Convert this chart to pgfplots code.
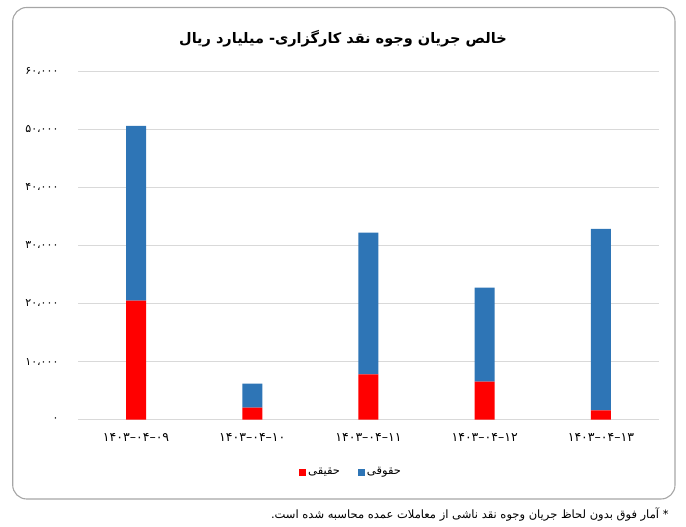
\documentclass[border=0pt]{standalone}
\usepackage{pgfplots}
\pgfplotsset{compat=1.18}
\usepackage{fontspec}
\setmainfont{DejaVu Sans}
\newfontfamily\arabicfont[Script=Arabic]{DejaVu Sans}
\TeXXeTstate=1
\definecolor{cred}{HTML}{FF0000}
\definecolor{cblue}{HTML}{2E75B6}
\newcommand\pd[3]{\hbox{#1}\hbox{–}\hbox{#2}\hbox{–}\hbox{#3}}
\begin{document}
\begin{tikzpicture}
\useasboundingbox (0pt,0pt) rectangle (686pt,527pt);
\draw[color=black!35, line width=1.1pt, rounded corners=14pt] (12.7pt,28pt) rectangle (675pt,519.5pt);
\node[font=\arabicfont\bfseries\fontsize{14.5}{17}\selectfont] at (343pt,488pt) {\beginR خالص جریان وجوه نقد کارگزاری- میلیارد ریال\endR};
\begin{axis}[
  at={(78pt,107.3pt)}, anchor=south west,
  scale only axis, width=581pt, height=348.7pt,
  xmin=-0.5, xmax=4.5, ymin=0, ymax=60000,
  scaled y ticks=false,
  ybar stacked, bar width=20pt,
  xtick={0,1,2,3,4},
  xticklabels={{\pd{۱۴۰۳}{۰۴}{۰۹}},{\pd{۱۴۰۳}{۰۴}{۱۰}},{\pd{۱۴۰۳}{۰۴}{۱۱}},{\pd{۱۴۰۳}{۰۴}{۱۲}},{\pd{۱۴۰۳}{۰۴}{۱۳}}},
  ytick={0,10000,20000,30000,40000,50000,60000},
  yticklabels={{۰},{۱۰،۰۰۰},{۲۰،۰۰۰},{۳۰،۰۰۰},{۴۰،۰۰۰},{۵۰،۰۰۰},{۶۰،۰۰۰}},
  yticklabel style={font=\fontsize{11}{13}\selectfont, xshift=-16pt},
  xticklabel style={font=\fontsize{12.5}{14}\selectfont, yshift=-10pt},
  axis line style={draw=none},
  major tick length=0pt,
  ymajorgrids, major grid style={color=black!15, line width=0.8pt},
  legend style={at={(0.47,-0.15)}, anchor=center, draw=none, legend columns=2,
    /tikz/every even column/.append style={column sep=16pt},
    font=\arabicfont\fontsize{11.5}{13}\selectfont},
  legend image code/.code={\fill[#1] (0pt,-3.5pt) rectangle (7pt,3.5pt);},
]
\addplot[fill=cred, draw=none] coordinates {(0,20480) (1,2070) (2,7810) (3,6540) (4,1620)};
\addlegendentry{\beginR حقیقی\endR}
\addplot[fill=cblue, draw=none] coordinates {(0,30070) (1,4130) (2,24380) (3,16180) (4,31200)};
\addlegendentry{\beginR حقوقی\endR}
\end{axis}
\node[anchor=east, font=\arabicfont\fontsize{11.5}{13}\selectfont] at (672pt,12pt) {\beginR * آمار فوق بدون لحاظ جریان وجوه نقد ناشی از معاملات عمده محاسبه شده است.\endR};
\end{tikzpicture}
\end{document}
